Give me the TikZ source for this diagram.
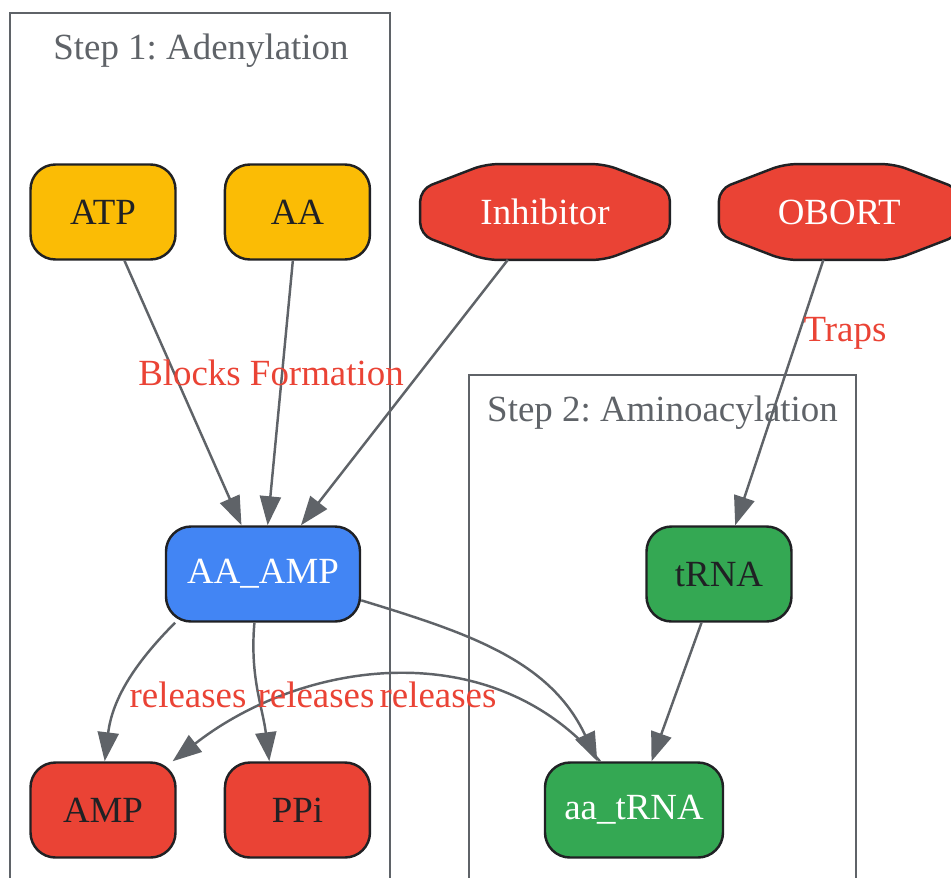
\documentclass[tikz,border=0pt]{standalone}
\usepackage{fontspec}
\setmainfont{Liberation Serif}
\usetikzlibrary{arrows.meta, positioning, backgrounds}
\definecolor{yellowfill}{RGB}{251, 188, 5}
\definecolor{redfill}{RGB}{234, 67, 53}
\definecolor{bluefill}{RGB}{66, 133, 244}
\definecolor{greenfill}{RGB}{52, 168, 83}
\definecolor{edgegray}{RGB}{95, 99, 104}
\definecolor{darkline}{RGB}{32, 33, 36}
\frenchspacing

% octagon drawn round a named node
\newcommand{\drawoctagon}[1]{%
  \filldraw[octline]
    ([xshift=1.3cm]#1.north west) -- ([xshift=-1.3cm]#1.north east)
    -- ([yshift=-0.5cm]#1.north east) -- ([yshift=0.5cm]#1.south east)
    -- ([xshift=-1.3cm]#1.south east) -- ([xshift=1.3cm]#1.south west)
    -- ([yshift=0.5cm]#1.south west) -- ([yshift=-0.5cm]#1.north west)
    -- cycle;}

\begin{document}
\begin{tikzpicture}[
  node distance = 0.94cm,
  font=\fontsize{21}{25}\selectfont,
  block/.style = {
    rectangle,
    rounded corners = 0.5cm,
    draw = darkline,
    line width = 1.4pt,
    minimum width = 2.9cm,
    minimum height = 1.9cm,
    text = darkline
  },
  octagon/.style = {
    rectangle,
    text = white,
    minimum width = 4.98cm,
    minimum height = 1.9cm
  },
  octline/.style = {
    rounded corners = 0.24cm,
    draw = darkline,
    line width = 1.4pt,
    fill = redfill
  },
  arrow/.style = {
    -{Triangle[length=0.58cm, width=0.42cm]},
    draw = edgegray,
    line width = 1.4pt
  },
  elabel/.style = {text = redfill},
  cluster/.style = {draw = edgegray, line width = 1.3pt},
  clabel/.style = {text = edgegray}
]

\useasboundingbox (0,0) rectangle (19.02,-17.54);
\clip (0,0) rectangle (19.02,-17.54);

% Clusters
\draw[cluster] (0.2,-0.26) rectangle (7.8,-18);
\draw[cluster] (9.38,-7.5) rectangle (17.12,-18);
\node[clabel] (step1) at (4.02,-1.02) {Step 1: Adenylation};
\node[clabel] (step2) at (13.25,-8.26) {Step 2: Aminoacylation};

% Nodes
\node[block, fill=yellowfill] (atp) at (2.06,-4.24) {ATP};
\node[block, fill=yellowfill, right=of atp] (aa) {AA};
\node[octagon, right=0.98cm of aa] (inhibitor) {Inhibitor};
\node[octagon, minimum width=4.8cm, right=0.98cm of inhibitor] (obort) {OBORT};
\node[block, fill=bluefill, text=white, minimum width=3.88cm] (aaamp) at (5.26,-11.48) {AA\_AMP};
\node[block, fill=greenfill] (trna) at (14.38,-11.48) {tRNA};
\node[block, fill=redfill] (amp) at (2.06,-16.2) {AMP};
\node[block, fill=redfill, right=of amp] (ppi) {PPi};
\node[block, fill=greenfill, text=white, minimum width=3.56cm] (aatrna) at (12.68,-16.2) {aa\_tRNA};

\begin{scope}[on background layer]
  \drawoctagon{inhibitor}
  \drawoctagon{obort}
\end{scope}

% Arrows
\draw[arrow] (atp) -- (aaamp);
\draw[arrow] (aa) -- (aaamp);
\draw[arrow] (inhibitor) -- (aaamp);
\draw[arrow] (obort) -- (trna);
\draw[arrow] (trna) -- (aatrna);
\draw[arrow] (aaamp.209) to[out=-135, in=83] (amp.88);
\draw[arrow] (aaamp.260) to[out=-95, in=97] (ppi.120);
\draw[arrow] (aaamp.-15) to[out=-17, in=115] (aatrna.127);
\draw[arrow] (aatrna.125) to[out=130, in=38] (amp.35);

% Labels
\node[elabel] (lblblocks) at (5.42,-7.46) {Blocks Formation};
\node[elabel] (lbltraps) at (16.9,-6.66) {Traps};
\node[elabel] (lblrel1) at (3.76,-13.9) {releases};
\node[elabel] (lblrel2) at (6.32,-13.9) {releases};
\node[elabel] (lblrel3) at (8.76,-13.9) {releases};

\end{tikzpicture}
\end{document}
